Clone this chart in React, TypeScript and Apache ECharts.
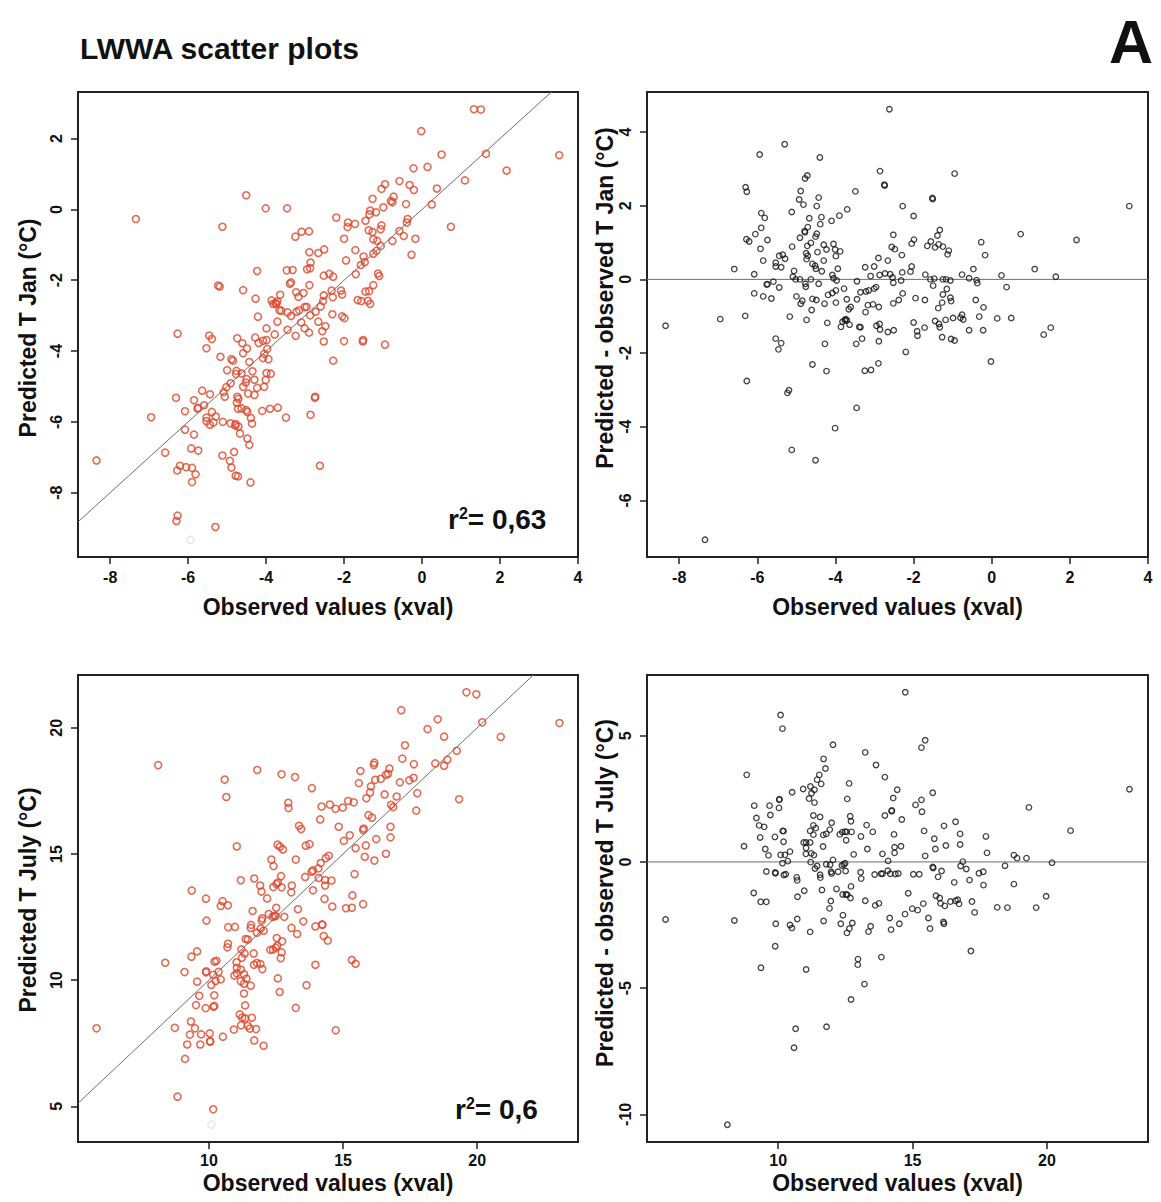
import React, { useEffect, useRef } from "react";
import * as echarts from "echarts";

// [observed, observed - predicted]
const janObsRes: [number, number][] = [
  [-5.94, 3.39], [-2.62, 4.62], [-5.3, 3.67], [-4.4, 3.31], [-2.86, 2.94], [-0.95, 2.87], [-4.72, 2.82], [-4.78, 2.74],
  [-2.75, 2.57], [-2.74, 2.55], [-6.3, 2.5], [-6.27, 2.38], [-3.49, 2.39], [-4.89, 2.4], [-1.52, 2.21], [-1.51, 2.18],
  [-4.43, 2.22], [-4.93, 2.17], [-4.82, 2.03], [-4.48, 1.99], [-2.28, 1.99], [3.52, 1.99], [-3.7, 1.9], [-5.12, 1.83],
  [-5.9, 1.8], [-2.0, 1.72], [-3.9, 1.73], [-5.81, 1.67], [-4.67, 1.66], [-4.36, 1.69], [-4.1, 1.59], [-4.39, 1.5],
  [-5.9, 1.4], [-4.71, 1.42], [-1.33, 1.34], [-4.79, 1.31], [-4.78, 1.28], [-4.48, 1.24], [-1.39, 1.19], [-6.05, 1.23],
  [-2.52, 1.21], [0.74, 1.23], [-4.51, 1.16], [-4.91, 1.13], [-1.99, 1.08], [-6.28, 1.09], [-6.21, 1.03], [-5.74, 1.07],
  [2.17, 1.07], [-1.56, 1.03], [-4.63, 0.99], [-0.27, 1.01], [-2.05, 0.97], [-4.05, 0.96], [-4.72, 0.91], [-4.3, 0.94],
  [-1.65, 0.91], [-1.36, 0.95], [-5.11, 0.89], [-1.25, 0.89], [-1.45, 0.87], [-2.56, 0.88], [-2.48, 0.82], [-5.92, 0.83],
  [-4.01, 0.81], [-4.23, 0.81], [-1.1, 0.78], [-3.88, 0.76], [-4.46, 0.74], [-4.75, 0.71], [-1.13, 0.68], [-2.3, 0.66],
  [-0.17, 0.66], [-4.71, 0.64], [-3.99, 0.63], [-5.44, 0.64], [-5.35, 0.67], [-5.29, 0.56], [-2.9, 0.58], [-5.85, 0.51],
  [-5.53, 0.45], [-4.74, 0.55], [-4.3, 0.51], [-2.66, 0.51], [-4.59, 0.42], [-4.52, 0.37], [-5.53, 0.35], [-5.39, 0.33],
  [-3.24, 0.33], [-3.01, 0.35], [-3.94, 0.29], [-4.5, 0.29], [-0.47, 0.28], [1.1, 0.28], [-6.59, 0.28], [-5.06, 0.23],
  [-4.35, 0.22], [-2.05, 0.35], [-2.29, 0.19], [-2.08, 0.21], [-6.08, 0.14], [-4.08, 0.12], [-3.1, 0.09], [-2.87, 0.12],
  [-2.73, 0.16], [-2.6, 0.14], [-1.7, 0.13], [-0.76, 0.13], [0.25, 0.11], [1.64, 0.07], [-5.09, 0.07], [-5.02, 0.0],
  [-4.91, 0.0], [-4.63, 0.0], [-4.05, 0.03], [-3.97, -0.03], [-2.54, 0.05], [-2.52, -0.09], [-2.32, -0.03], [-1.57, 0.0],
  [-1.47, 0.02], [-1.25, 0.0], [-1.17, 0.0], [-1.06, -0.03], [-0.58, 0.03], [-0.39, -0.02], [-0.37, -0.1], [-3.45, -0.05],
  [-5.59, -0.06], [-5.76, -0.14], [-5.74, -0.13], [-4.77, -0.12], [-4.76, -0.2], [-4.43, -0.12], [-1.5, -0.17], [0.38, -0.21],
  [-5.44, -0.22], [-2.96, -0.21], [-3.01, -0.25], [-3.15, -0.3], [-3.22, -0.33], [-3.36, -0.35], [-3.78, -0.25], [-3.99, -0.3],
  [-1.15, -0.26], [-6.08, -0.38], [-4.08, -0.37], [-4.19, -0.42], [-2.28, -0.38], [-1.25, -0.41], [-5.85, -0.46], [-5.0, -0.46],
  [-5.64, -0.52], [-1.06, -0.5], [-1.04, -0.59], [-4.59, -0.53], [-4.49, -0.56], [-4.85, -0.58], [-3.71, -0.54], [-3.45, -0.54],
  [-2.38, -0.56], [-1.95, -0.51], [-1.71, -0.56], [-0.41, -0.56], [-4.89, -0.66], [-4.28, -0.66], [-3.99, -0.63], [-2.52, -0.65],
  [-1.27, -0.63], [-3.17, -0.7], [-3.04, -0.68], [-3.61, -0.75], [-2.89, -0.75], [-1.37, -0.78], [-0.21, -0.76], [-4.61, -0.83],
  [-3.66, -0.81], [-3.23, -0.89], [-5.17, -1.01], [-6.31, -0.99], [-0.76, -0.96], [-0.8, -1.04], [-0.32, -1.01], [-0.99, -1.05],
  [-0.73, -1.09], [0.14, -1.06], [0.5, -1.05], [-6.95, -1.08], [-4.74, -1.1], [-3.74, -1.08], [-3.76, -1.11], [-3.71, -1.11],
  [-3.82, -1.15], [-1.18, -1.1], [-1.45, -1.13], [-2.0, -1.17], [-4.21, -1.18], [-1.35, -1.21], [-3.64, -1.23], [-2.87, -1.21],
  [-2.95, -1.26], [-1.33, -1.3], [-3.39, -1.29], [-3.36, -1.3], [-3.86, -1.29], [-8.35, -1.26], [1.51, -1.31], [-1.72, -1.31],
  [-2.86, -1.36], [-2.51, -1.38], [-0.58, -1.38], [-0.22, -1.38], [-2.66, -1.43], [-1.91, -1.41], [-1.9, -1.53], [1.33, -1.5],
  [-1.27, -1.57], [-3.32, -1.61], [-5.53, -1.61], [-1.04, -1.62], [-0.95, -1.66], [-5.39, -1.73], [-2.89, -1.68], [-3.47, -1.75],
  [-4.27, -1.75], [-5.46, -1.9], [-2.2, -1.97], [-0.02, -2.23], [-4.59, -2.31], [-2.9, -2.28], [-4.23, -2.49], [-3.25, -2.48],
  [-3.09, -2.46], [-6.27, -2.76], [-5.19, -3.01], [-5.23, -3.08], [-3.46, -3.49], [-4.01, -4.04], [-5.12, -4.63], [-4.51, -4.91],
  [-7.34, -7.07],
];

const julObsRes: [number, number][] = [
  [10.09, 5.82], [14.73, 6.72], [10.16, 5.28], [15.47, 4.82], [15.33, 4.53], [12.04, 4.64], [13.24, 4.34], [11.69, 4.08],
  [11.76, 3.7], [13.64, 3.84], [8.83, 3.45], [11.53, 3.45], [11.45, 3.26], [13.97, 3.36], [11.6, 3.09], [12.64, 3.11],
  [11.2, 2.99], [10.93, 2.89], [11.35, 2.86], [14.43, 2.86], [10.52, 2.76], [11.24, 2.72], [15.75, 2.74], [23.07, 2.88],
  [11.15, 2.51], [12.57, 2.5], [14.28, 2.53], [10.05, 2.49], [10.04, 2.46], [15.33, 2.46], [11.35, 2.35], [9.11, 2.23],
  [9.68, 2.23], [15.11, 2.26], [10.03, 2.14], [19.33, 2.16], [14.23, 2.04], [14.22, 2.01], [15.35, 1.99], [9.71, 1.86],
  [13.97, 1.84], [12.68, 1.81], [11.56, 1.78], [11.31, 1.84], [9.19, 1.74], [14.6, 1.68], [12.71, 1.61], [16.6, 1.59],
  [11.99, 1.55], [9.29, 1.45], [13.29, 1.46], [9.48, 1.39], [11.31, 1.45], [11.4, 1.34], [16.17, 1.43], [11.92, 1.28],
  [11.19, 1.23], [11.79, 1.11], [10.17, 1.23], [10.2, 1.22], [11.68, 1.07], [12.49, 1.2], [12.39, 1.18], [12.55, 1.19],
  [12.73, 1.19], [12.29, 1.09], [13.52, 1.19], [14.31, 1.09], [15.43, 1.23], [16.77, 1.11], [20.88, 1.24], [9.33, 0.97],
  [9.88, 0.99], [13.08, 1.01], [17.73, 1.01], [15.81, 0.92], [11.31, 1.08], [12.53, 0.86], [10.2, 0.8], [10.95, 0.77],
  [11.04, 0.77], [11.19, 0.77], [16.24, 0.65], [16.77, 0.69], [8.73, 0.62], [11.67, 0.61], [14.57, 0.62], [11.04, 0.55],
  [13.32, 0.51], [9.52, 0.51], [14.33, 0.58], [15.85, 0.51], [10.44, 0.41], [11.03, 0.32], [11.23, 0.34], [12.81, 0.3],
  [13.88, 0.32], [14.33, 0.36], [17.77, 0.36], [9.64, 0.26], [10.09, 0.28], [10.25, 0.28], [11.33, 0.27], [18.77, 0.27],
  [15.47, 0.24], [19.24, 0.15], [18.89, 0.15], [12.04, 0.08], [10.36, 0.03], [10.16, -0.05], [11.21, -0.01], [14.09, 0.04],
  [16.87, 0.01], [20.19, -0.03], [12.49, -0.05], [12.44, -0.1], [12.37, -0.14], [11.79, -0.09], [11.93, -0.11], [11.45, -0.16],
  [16.79, -0.16], [18.44, -0.15], [11.37, -0.26], [15.75, -0.2], [15.77, -0.24], [17.0, -0.28], [9.56, -0.38], [9.89, -0.42],
  [9.9, -0.45], [16.08, -0.36], [17.63, -0.39], [17.47, -0.45], [11.97, -0.39], [11.99, -0.46], [12.23, -0.39], [12.51, -0.36],
  [13.07, -0.41], [14.08, -0.35], [13.83, -0.47], [13.88, -0.47], [14.17, -0.47], [14.36, -0.48], [14.47, -0.46], [13.59, -0.5],
  [15.03, -0.49], [15.25, -0.49], [10.28, -0.49], [10.21, -0.52], [11.56, -0.51], [11.57, -0.62], [13.09, -0.66], [15.95, -0.59],
  [10.69, -0.61], [10.71, -0.73], [17.12, -0.72], [16.55, -0.81], [18.77, -0.88], [17.64, -0.92], [12.71, -0.97], [11.63, -1.11],
  [12.17, -1.07], [10.97, -1.14], [14.84, -1.24], [9.09, -1.23], [12.4, -1.29], [12.52, -1.29], [12.57, -1.3], [10.72, -1.38],
  [12.69, -1.43], [15.87, -1.34], [19.97, -1.36], [16.01, -1.43], [16.68, -1.5], [16.6, -1.54], [16.41, -1.57], [17.21, -1.57],
  [9.35, -1.58], [9.56, -1.58], [11.96, -1.55], [13.24, -1.54], [16.04, -1.64], [16.2, -1.74], [16.73, -1.66], [15.4, -1.65],
  [13.75, -1.64], [13.61, -1.72], [11.91, -1.84], [14.99, -1.85], [15.19, -1.91], [18.15, -1.8], [18.53, -1.81], [19.6, -1.81],
  [14.72, -2.07], [17.31, -2.0], [12.41, -2.11], [15.59, -2.22], [10.71, -2.26], [14.15, -2.22], [5.81, -2.28], [8.37, -2.32],
  [9.91, -2.45], [11.69, -2.34], [12.33, -2.45], [12.76, -2.42], [16.15, -2.38], [16.17, -2.45], [14.51, -2.45], [10.44, -2.5],
  [10.51, -2.62], [12.65, -2.64], [12.56, -2.81], [13.44, -2.55], [13.36, -2.76], [11.19, -2.77], [14.2, -2.68], [15.65, -2.64],
  [13.84, -3.77], [9.89, -3.34], [17.17, -3.53], [12.97, -3.85], [12.96, -4.07], [9.36, -4.19], [11.04, -4.26], [13.21, -4.84],
  [12.71, -5.45], [11.8, -6.53], [10.65, -6.61], [10.59, -7.36], [8.11, -10.41],
];

// points drawn faint in the predicted-vs-observed panels
const janFaint = [0];
const julFaint = [0];

const janXTicks = [-8, -6, -4, -2, 0, 2, 4];
const janPredTicks = [-8, -6, -4, -2, 0, 2];
const janResTicks = [-6, -4, -2, 0, 2, 4];
const julXTicks = [10, 15, 20];
const julPredTicks = [5, 10, 15, 20];
const julResTicks = [-10, -5, 0, 5];

const janR2 = "0,63";
const julR2 = "0,6";

const FONT = "'Liberation Sans', Arial, Helvetica, sans-serif";
const RED = "#d9482d";

function rRange(vals: number[]): [number, number] {
  const mn = Math.min(...vals);
  const mx = Math.max(...vals);
  const d = (mx - mn) * 0.04;
  return [mn - d, mx + d];
}

export default function App() {
  const ref = useRef<HTMLDivElement>(null);

  useEffect(() => {
    if (!ref.current) return;
    const chart = echarts.init(ref.current, undefined, { renderer: "svg" });

    const janPred = janObsRes.map(([o, r]) => [o, +(o - r).toFixed(2)]);
    const julPred = julObsRes.map(([o, r]) => [o, +(o - r).toFixed(2)]);

    const janX = rRange(janObsRes.map((p) => p[0]));
    janX[1] = Math.max(janX[1], 4.0);
    const julX = rRange(julObsRes.map((p) => p[0]));
    const janPY = rRange(janPred.map((p) => p[1]));
    const julPY = rRange(julPred.map((p) => p[1]));
    const janRY = rRange(janObsRes.map((p) => p[1]));
    const julRY = rRange(julObsRes.map((p) => p[1]));

    const grids = [
      { left: 78, top: 92, width: 500, height: 465 },
      { left: 647, top: 92, width: 501, height: 465 },
      { left: 78, top: 675, width: 500, height: 467 },
      { left: 647, top: 675, width: 501, height: 467 },
    ].map((g) => ({ ...g, show: true, borderColor: "#222", borderWidth: 2, backgroundColor: "transparent" }));

    const nameStyle = { fontFamily: FONT, fontWeight: "bold" as const, fontSize: 23, color: "#111" };
    const labelStyle = { fontFamily: FONT, fontWeight: "bold" as const, fontSize: 16, color: "#111" };

    const xAx = (gi: number, range: [number, number], ticks: number[], gap: number, margin: number) => ({
      type: "value",
      gridIndex: gi,
      min: range[0],
      max: range[1],
      splitLine: { show: false },
      axisLine: { show: true, onZero: false, lineStyle: { color: "#222", width: 2 } },
      axisTick: { show: true, customValues: ticks, length: 7, lineStyle: { color: "#222", width: 1.5 } },
      axisLabel: { customValues: ticks, margin, showMaxLabel: true, ...labelStyle },
      name: "Observed values (xval)",
      nameLocation: "middle",
      nameGap: gap,
      nameTextStyle: nameStyle,
    });

    const yAx = (gi: number, range: [number, number], ticks: number[]) => ({
      type: "value",
      gridIndex: gi,
      min: range[0],
      max: range[1],
      splitLine: { show: false },
      axisLine: { show: true, onZero: false, lineStyle: { color: "#222", width: 2 } },
      axisTick: { show: true, customValues: ticks, length: 7, lineStyle: { color: "#222", width: 1.5 } },
      axisLabel: { customValues: ticks, margin: 14, rotate: 90, ...labelStyle },
    });

    const predPoints = (pts: number[][], faint: number[]) =>
      pts.map((p, i) =>
        faint.includes(i)
          ? { value: p, itemStyle: { borderColor: "#e2e2e2" } }
          : { value: p }
      );

    const scatter = (gi: number, data: any[], color: string, size: number, bw: number) => ({
      type: "scatter",
      xAxisIndex: gi,
      yAxisIndex: gi,
      symbol: "circle",
      symbolSize: size,
      itemStyle: { color: "transparent", borderColor: color, borderWidth: bw },
      data,
      z: 3,
    });

    const refLine = (gi: number, data: number[][]) => ({
      type: "line",
      xAxisIndex: gi,
      yAxisIndex: gi,
      data,
      showSymbol: false,
      symbol: "none",
      clip: true,
      lineStyle: { color: "#6e6e6e", width: 1 },
      z: 2,
    });

    const r2Text = (left: number, top: number, val: string) => ({
      type: "text",
      left,
      top,
      style: {
        text: "{a|r}{b|2}{a|= " + val + "}",
        rich: {
          a: { fontFamily: FONT, fontWeight: "bold", fontSize: 28, fill: "#111", verticalAlign: "bottom" },
          b: { fontFamily: FONT, fontWeight: "bold", fontSize: 16, fill: "#111", verticalAlign: "top", padding: [0, 0, 12, 0] },
        },
      },
    });

    const yName = (x: number, y: number, text: string) => ({
      type: "text",
      x,
      y,
      rotation: Math.PI / 2,
      style: {
        text,
        fontFamily: FONT,
        fontWeight: "bold",
        fontSize: 23,
        fill: "#111",
        textAlign: "center",
        textVerticalAlign: "middle",
      },
    });

    chart.setOption({
      animation: false,
      backgroundColor: "#fff",
      grid: grids,
      xAxis: [
        xAx(0, janX, janXTicks, 38, 12),
        xAx(1, janX, janXTicks, 38, 12),
        xAx(2, julX, julXTicks, 29, 10),
        xAx(3, julX, julXTicks, 29, 10),
      ],
      yAxis: [
        yAx(0, janPY, janPredTicks),
        yAx(1, janRY, janResTicks),
        yAx(2, julPY, julPredTicks),
        yAx(3, julRY, julResTicks),
      ],
      series: [
        refLine(0, [[janX[0], janX[0]], [janX[1], janX[1]]]),
        scatter(0, predPoints(janPred, janFaint), RED, 7, 1.6),
        refLine(1, [[janX[0], 0], [janX[1], 0]]),
        scatter(1, janObsRes, "#111", 5.5, 1.3),
        refLine(2, [[julX[0], julX[0]], [julX[1], julX[1]]]),
        scatter(2, predPoints(julPred, julFaint), RED, 7, 1.6),
        refLine(3, [[julX[0], 0], [julX[1], 0]]),
        scatter(3, julObsRes, "#111", 5.5, 1.3),
      ],
      graphic: [
        {
          type: "text",
          left: 80,
          top: 33,
          style: { text: "LWWA scatter plots", fontFamily: FONT, fontWeight: "bold", fontSize: 30, fill: "#111" },
        },
        {
          type: "text",
          right: 8,
          top: 11,
          style: { text: "A", fontFamily: FONT, fontWeight: "bold", fontSize: 61, fill: "#111" },
        },
        r2Text(448, 505, janR2),
        r2Text(455, 1095, julR2),
        yName(28, 328, "Predicted T Jan (°C)"),
        yName(605, 298, "Predicted - observed T Jan (°C)"),
        yName(28, 900, "Predicted T July (°C)"),
        yName(605, 893, "Predicted - observed T July (°C)"),
      ],
    });

    return () => chart.dispose();
  }, []);

  return (
    <div
      ref={ref}
      style={{ position: "absolute", left: 0, top: 0, width: 1161, height: 1202, background: "#fff" }}
    />
  );
}
